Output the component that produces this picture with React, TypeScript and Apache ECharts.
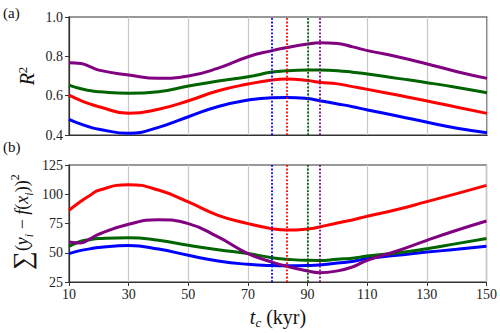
import React, { useEffect, useRef } from "react";
import * as echarts from "echarts";

const xs = [10, 14, 17, 20, 30, 40, 50, 60, 70, 78, 83, 90, 94, 100, 105, 110, 120, 130, 140, 150];

// Panel (a): R^2
const r2Purple = [0.768, 0.764, 0.748, 0.73, 0.705, 0.688, 0.7, 0.74, 0.798, 0.829, 0.845, 0.863, 0.869, 0.865, 0.848, 0.829, 0.798, 0.761, 0.722, 0.688];
const r2Green = [0.654, 0.635, 0.626, 0.62, 0.612, 0.62, 0.649, 0.675, 0.696, 0.72, 0.727, 0.73, 0.73, 0.727, 0.719, 0.71, 0.688, 0.666, 0.642, 0.615];
const r2Red = [0.603, 0.575, 0.558, 0.544, 0.51, 0.531, 0.574, 0.625, 0.659, 0.68, 0.685, 0.677, 0.668, 0.66, 0.646, 0.632, 0.603, 0.573, 0.541, 0.51];
const r2Blue = [0.48, 0.455, 0.44, 0.429, 0.409, 0.439, 0.493, 0.545, 0.578, 0.59, 0.591, 0.585, 0.574, 0.558, 0.544, 0.527, 0.497, 0.465, 0.434, 0.412];

// Panel (b): sum of squared residuals
const ssPurple = [59.2, 58.4, 61.8, 65.8, 74.3, 78.2, 74.9, 63.5, 49.3, 42.1, 38.4, 34.4, 33, 34.5, 37.8, 43.5, 51.5, 60.6, 69.2, 77.1];
const ssGreen = [55.5, 59.8, 61.2, 62.1, 62.9, 60.6, 56.4, 52.5, 49.3, 45.8, 44.5, 43.5, 43.4, 44.5, 45.3, 47.2, 49.8, 53.5, 57.8, 62.1];
const ssRed = [86.3, 94, 99, 103.4, 108.2, 103.6, 93.4, 82, 74.9, 70.6, 69.4, 70.3, 72, 75.5, 78, 81.2, 86.9, 93.7, 100.5, 107.6];
const ssBlue = [49.3, 52, 53.3, 54.4, 56.1, 53.2, 47.8, 43, 40.1, 39, 38.8, 39, 39.5, 41.3, 42.5, 45, 47.8, 50.6, 52.9, 55.5];

// Optimal t_c markers (dotted vertical lines)
const optBlue = 78;
const optRed = 83;
const optGreen = 90;
const optPurple = 94;

const xTicks = [10, 30, 50, 70, 90, 110, 130, 150];
const r2Ticks = [0.4, 0.6, 0.8, 1.0];
const ssTicks = [25, 50, 75, 100, 125];

const COLORS = { blue: "#0000ff", red: "#ff0000", green: "#006400", purple: "#800080" };
const FONT = "'Liberation Serif', serif";

export default function App() {
  const ref = useRef<HTMLDivElement>(null);
  useEffect(() => {
    if (!ref.current) return;
    const chart = echarts.init(ref.current, undefined, { renderer: "svg" });
    const pairs = (arr: number[]) => xs.map((x, i) => [x, arr[i]]);
    const frame = "#333333";
    const xAxisBase = (gi: number, showLabels: boolean) => ({
      type: "value",
      gridIndex: gi,
      min: 10,
      max: 150,
      axisLine: { show: true, lineStyle: { color: frame, width: 1.2 } },
      axisTick: { show: showLabels, customValues: xTicks, inside: false, length: 4, lineStyle: { color: frame } },
      axisLabel: { show: showLabels, customValues: xTicks, fontFamily: FONT, fontSize: 14, color: "#222", margin: 5 },
      splitLine: { show: true, lineStyle: { color: "#c8c8c8", width: 1.2 } },
    });
    const lineSeries = (name: string, gi: number, arr: number[], color: string) => ({
      type: "line",
      name,
      xAxisIndex: gi,
      yAxisIndex: gi,
      data: pairs(arr),
      smooth: true,
      showSymbol: false,
      symbol: "none",
      lineStyle: { color, width: 3 },
      z: 2,
    });
    const markSeries = (gi: number) => ({
      type: "line",
      xAxisIndex: gi,
      yAxisIndex: gi,
      data: [],
      z: 5,
      markLine: {
        silent: true,
        symbol: "none",
        label: { show: false },
        lineStyle: { type: "dotted", width: 1.8 },
        data: [
          { xAxis: optBlue, lineStyle: { color: COLORS.blue, type: "dotted", width: 1.8 } },
          { xAxis: optRed, lineStyle: { color: COLORS.red, type: "dotted", width: 1.8 } },
          { xAxis: optGreen, lineStyle: { color: COLORS.green, type: "dotted", width: 1.8 } },
          { xAxis: optPurple, lineStyle: { color: COLORS.purple, type: "dotted", width: 1.8 } },
        ],
      },
    });
    chart.setOption({
      animation: false,
      textStyle: { fontFamily: FONT },
      grid: [
        { left: 69, right: 13, top: 17, height: 118, show: true, borderColor: frame, borderWidth: 1.2, backgroundColor: "transparent" },
        { left: 69, right: 13, top: 165, height: 117, show: true, borderColor: frame, borderWidth: 1.2, backgroundColor: "transparent" },
      ],
      xAxis: [xAxisBase(0, false), xAxisBase(1, true)],
      yAxis: [
        {
          type: "value",
          gridIndex: 0,
          min: 0.4,
          max: 1.0,
          interval: 0.2,
          axisLine: { show: true, lineStyle: { color: frame, width: 1.2 } },
          axisTick: { show: true, customValues: r2Ticks, length: 4, lineStyle: { color: frame } },
          axisLabel: { customValues: r2Ticks, fontFamily: FONT, fontSize: 14, color: "#222", margin: 6, formatter: (v: number) => v.toFixed(1) },
          splitLine: { show: false },
        },
        {
          type: "value",
          gridIndex: 1,
          min: 25,
          max: 125,
          interval: 25,
          axisLine: { show: true, lineStyle: { color: frame, width: 1.2 } },
          axisTick: { show: true, customValues: ssTicks, length: 4, lineStyle: { color: frame } },
          axisLabel: { customValues: ssTicks, fontFamily: FONT, fontSize: 14, color: "#222", margin: 6 },
          splitLine: { show: false },
        },
      ],
      series: [
        lineSeries("blue", 0, r2Blue, COLORS.blue),
        lineSeries("red", 0, r2Red, COLORS.red),
        lineSeries("green", 0, r2Green, COLORS.green),
        lineSeries("purple", 0, r2Purple, COLORS.purple),
        markSeries(0),
        lineSeries("blue", 1, ssBlue, COLORS.blue),
        lineSeries("red", 1, ssRed, COLORS.red),
        lineSeries("green", 1, ssGreen, COLORS.green),
        lineSeries("purple", 1, ssPurple, COLORS.purple),
        markSeries(1),
      ],
      graphic: [
        { type: "text", left: 3, top: 5, style: { text: "(a)", fontFamily: FONT, fontSize: 15, fill: "#111" } },
        { type: "text", left: 3, top: 139, style: { text: "(b)", fontFamily: FONT, fontSize: 15, fill: "#111" } },
        {
          type: "text",
          x: 27,
          y: 76,
          rotation: Math.PI / 2,
          style: {
            text: "{i|R}{s|2}",
            align: "center",
            verticalAlign: "middle",
            rich: {
              i: { fontFamily: FONT, fontStyle: "italic", fontSize: 20, fill: "#111", lineHeight: 22 },
              s: { fontFamily: FONT, fontSize: 13, fill: "#111", verticalAlign: "top", lineHeight: 22 },
            },
          },
        },
        {
          type: "text",
          x: 22,
          y: 222,
          rotation: Math.PI / 2,
          style: {
            text: "{b|∑}{n|(}{i|y}{sub|i}{n| − }{i|f}{n|(}{i|x}{sub|i}{n|))}{sup|2}",
            align: "center",
            verticalAlign: "middle",
            rich: {
              b: { fontFamily: FONT, fontSize: 26, fill: "#111", lineHeight: 26 },
              n: { fontFamily: FONT, fontSize: 18, fill: "#111", lineHeight: 26 },
              i: { fontFamily: FONT, fontStyle: "italic", fontSize: 18, fill: "#111", lineHeight: 26 },
              sub: { fontFamily: FONT, fontStyle: "italic", fontSize: 12, fill: "#111", verticalAlign: "bottom", lineHeight: 26 },
              sup: { fontFamily: FONT, fontSize: 12, fill: "#111", verticalAlign: "top", lineHeight: 26 },
            },
          },
        },
        {
          type: "text",
          x: 278,
          y: 317,
          style: {
            text: "{i|t}{sub|c}{n| (kyr)}",
            align: "center",
            verticalAlign: "middle",
            rich: {
              i: { fontFamily: FONT, fontStyle: "italic", fontSize: 20, fill: "#111", lineHeight: 24 },
              sub: { fontFamily: FONT, fontStyle: "italic", fontSize: 13, fill: "#111", verticalAlign: "bottom", lineHeight: 24 },
              n: { fontFamily: FONT, fontSize: 20, fill: "#111", lineHeight: 24 },
            },
          },
        },
      ],
    });
    return () => chart.dispose();
  }, []);
  return <div ref={ref} style={{ width: 500, height: 333, position: "absolute", left: 0, top: 0 }} />;
}
